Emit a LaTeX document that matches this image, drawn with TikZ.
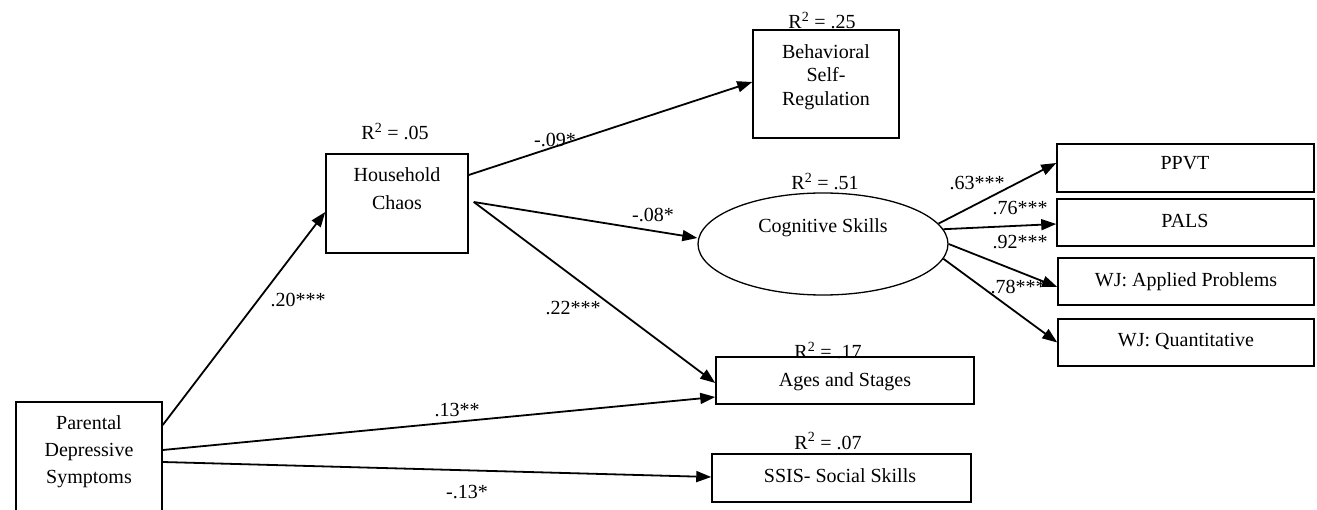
\documentclass[tikz,border=0pt]{standalone}
\usepackage{fontspec}
\setmainfont{Liberation Serif}
\usetikzlibrary{arrows.meta,shapes.geometric}
\begin{document}
\begin{tikzpicture}[x=1pt,y=-1pt,
  every node/.style={font=\fontsize{20}{24}\selectfont, inner sep=0pt},
  box/.style={draw, line width=1.5pt, rectangle, inner sep=0pt},
  arr/.style={line width=1.8pt, -{Triangle[length=15pt,width=11pt]}},
  lbl/.style={anchor=base},
  multi/.style={align=center, anchor=north}]
\useasboundingbox (0,0) rectangle (1317,510);
\clip (0,0) rectangle (1317,510);
% boxes
\node[box, minimum width=146pt, minimum height=118pt] (pds) at (89,461) {};
\node[box, minimum width=142pt, minimum height=99pt] (hc) at (397,203.5) {};
\node[box, minimum width=146pt, minimum height=108pt] (bsr) at (826,84) {};
\node[draw, ellipse, line width=1.3pt, minimum width=250pt, minimum height=102pt, inner sep=0pt] (cs) at (823,244) {};
\node[box, minimum width=258pt, minimum height=47pt] (ages) at (845,380.5) {};
\node[box, minimum width=259pt, minimum height=48pt] (ssis) at (841.5,478) {};
\node[box, minimum width=257pt, minimum height=48pt] (ppvt) at (1185.5,168) {};
\node[box, minimum width=257pt, minimum height=47pt] (pals) at (1185.5,222.5) {};
\node[box, minimum width=256pt, minimum height=47pt] (wja) at (1186,281.5) {};
\node[box, minimum width=256pt, minimum height=47pt] (wjq) at (1186,342.5) {};
% texts in boxes
\node[multi, font=\fontsize{20}{27}\selectfont] (pdst) at (89,415) {Parental\\Depressive\\Symptoms};
\node[multi, font=\fontsize{20}{28}\selectfont] (hct) at (397,167) {Household\\Chaos};
\node[multi, font=\fontsize{20}{23.5}\selectfont] (bsrt) at (826,44) {Behavioral\\Self-\\Regulation};
\node[lbl] (cst) at (823,233) {Cognitive Skills};
\node[lbl] (agest) at (845,386) {Ages and Stages};
\node[lbl] (ssist) at (840,482) {SSIS- Social Skills};
\node[lbl] (ppvtt) at (1185,170) {PPVT};
\node[lbl] (palst) at (1185,228) {PALS};
\node[lbl] (wjat) at (1186,287) {WJ: Applied Problems};
\node[lbl] (wjqt) at (1186,347) {WJ: Quantitative};
% R squared
\node[lbl] (r1) at (395,140) {R\textsuperscript{2} = .05};
\node[lbl] (r2) at (822,29) {R\textsuperscript{2} = .25};
\node[lbl] (r3) at (825,190) {R\textsuperscript{2} = .51};
\node[lbl] (r4) at (828,359) {R\textsuperscript{2} = .17};
\node[lbl] (r5) at (828,449) {R\textsuperscript{2} = .07};
% arrows
\draw[arr] ([yshift=36pt]pds.east) -- ([yshift=-8.5pt]hc.west);
\draw[arr] ([yshift=11pt]pds.east) -- ([yshift=-16.5pt]ages.west);
\draw[arr] ([yshift=-1pt]pds.east) -- ([yshift=1pt]ssis.west);
\draw[arr] ([yshift=28.5pt]hc.east) -- ([yshift=2pt]bsr.west);
\draw[arr] ([xshift=5pt,yshift=1.5pt]hc.east) -- ([yshift=6pt]cs.west);
\draw[arr] ([xshift=5pt,yshift=1.5pt]hc.east) -- ([yshift=-2.5pt]ages.west);
\draw[arr] (cs.10) -- ([yshift=5pt]ppvt.west);
\draw[arr] (cs.7) -- ([yshift=-1.5pt]pals.west);
\draw[arr] (cs.east) -- ([yshift=-5.5pt]wja.west);
\draw[arr] (cs.-7) -- (wjq.west);
% coefficients
\node[lbl] (c1) at (298,307) {.20***};
\node[lbl] (c2) at (457,416) {.13**};
\node[lbl] (c3) at (467,498) {-.13*};
\node[lbl] (c4) at (555,147) {-.09*};
\node[lbl] (c5) at (653,222) {-.08*};
\node[lbl] (c6) at (573,315) {.22***};
\node[lbl] (c7) at (977,190) {.63***};
\node[lbl] (c8) at (1020,215) {.76***};
\node[lbl] (c9) at (1020,249) {.92***};
\node[lbl] (c10) at (1018,294) {.78***};
\end{tikzpicture}
\end{document}
